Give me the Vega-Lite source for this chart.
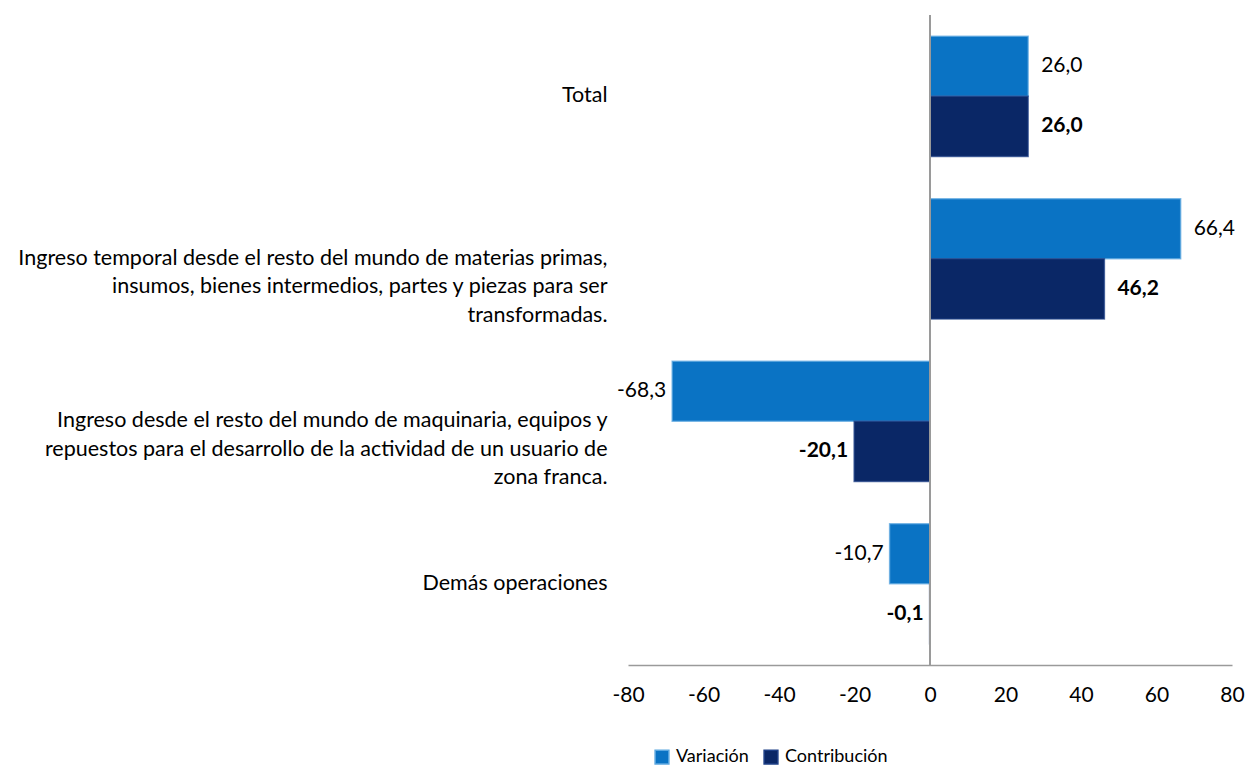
{
  "$schema": "https://vega.github.io/schema/vega-lite/v6.json",
  "autosize": {"type": "none"},
  "width": 604,
  "height": 650,
  "padding": {"left": 628, "top": 15, "right": 13, "bottom": 105},
  "config": {
    "locale": {"number": {"decimal": ",", "thousands": ".", "grouping": [3], "currency": ["", ""], "minus": "-"}},
    "view": {"stroke": null},
    "font": "Lato"
  },
  "data": {
    "values": [
      {"cat": "Total", "serie": "Variación", "v": 26.0},
      {"cat": "Total", "serie": "Contribución", "v": 26.0},
      {"cat": "Ingreso temporal desde el resto del mundo de materias primas,|insumos, bienes intermedios, partes y piezas para ser|transformadas.", "serie": "Variación", "v": 66.4},
      {"cat": "Ingreso temporal desde el resto del mundo de materias primas,|insumos, bienes intermedios, partes y piezas para ser|transformadas.", "serie": "Contribución", "v": 46.2},
      {"cat": "Ingreso desde el resto del mundo de maquinaria, equipos y|repuestos para el desarrollo de la actividad de un usuario de|zona franca.", "serie": "Variación", "v": -68.3},
      {"cat": "Ingreso desde el resto del mundo de maquinaria, equipos y|repuestos para el desarrollo de la actividad de un usuario de|zona franca.", "serie": "Contribución", "v": -20.1},
      {"cat": "Demás operaciones", "serie": "Variación", "v": -10.7},
      {"cat": "Demás operaciones", "serie": "Contribución", "v": -0.1}
    ]
  },
  "layer": [
    {
      "mark": {"type": "bar", "strokeWidth": 1.5, "strokeOpacity": 0.7},
      "encoding": {
        "y": {
          "field": "cat", "type": "nominal", "sort": null,
          "scale": {"paddingInner": 0.26, "paddingOuter": 0.13},
          "axis": {
            "title": null, "domain": false, "ticks": false,
            "labelExpr": "split(datum.value, '|')",
            "labelFontSize": 21.5, "labelLineHeight": 28.5, "labelPadding": 21,
            "labelColor": "#000000", "labelLimit": 700, "labelFont": "Lato"
          }
        },
        "yOffset": {"field": "serie", "sort": ["Variación", "Contribución"]},
        "x": {
          "field": "v", "type": "quantitative",
          "scale": {"domain": [-80, 80], "nice": false},
          "axis": {
            "title": null, "values": [-80, -60, -40, -20, 0, 20, 40, 60, 80],
            "grid": false, "ticks": false, "domainColor": "#9a9a9a", "domainWidth": 1.5,
            "labelFlush": false, "labelOverlap": false, "labelBound": false,
            "labelFontSize": 21, "labelPadding": 19, "labelColor": "#000000", "labelFont": "Lato"
          }
        },
        "color": {
          "field": "serie", "type": "nominal",
          "scale": {"domain": ["Variación", "Contribución"], "range": ["#0A73C4", "#0A2766"]},
          "legend": {
            "title": null, "orient": "none", "direction": "horizontal",
            "legendX": 25, "legendY": 733, "symbolType": "square", "symbolSize": 190,
            "labelFontSize": 18, "labelColor": "#000000", "columnPadding": 12, "labelOffset": 5, "labelFont": "Lato"
          }
        },
        "stroke": {
          "field": "serie", "type": "nominal",
          "scale": {"domain": ["Variación", "Contribución"], "range": ["#5BA7E0", "#1D3F86"]},
          "legend": null
        }
      }
    },
    {
      "mark": {
        "type": "text", "fontSize": 21, "color": "#000000", "font": "Lato",
        "align": {"expr": "datum.v < 0 ? 'right' : 'left'"},
        "dx": {"expr": "datum.v < 0 ? -6 : 13"},
        "fontWeight": {"expr": "datum.serie === 'Contribución' ? 'bold' : 'normal'"}
      },
      "encoding": {
        "y": {"field": "cat", "type": "nominal", "sort": null},
        "yOffset": {"field": "serie", "sort": ["Variación", "Contribución"]},
        "x": {"field": "v", "type": "quantitative"},
        "text": {"field": "v", "type": "quantitative", "format": ".1f"}
      }
    },
    {
      "mark": {"type": "rule", "color": "#9a9a9a", "strokeWidth": 1.5},
      "encoding": {"x": {"datum": 0}}
    }
  ]
}
